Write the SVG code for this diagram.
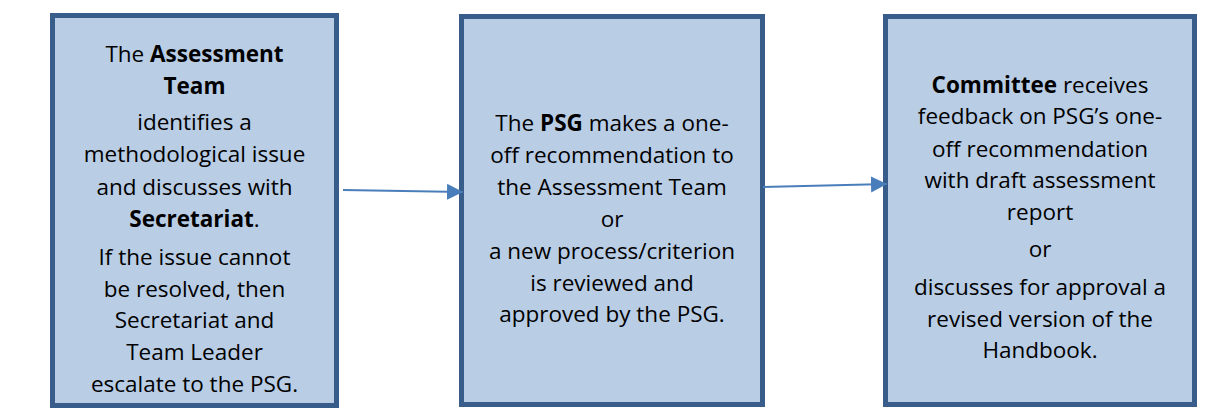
<svg xmlns="http://www.w3.org/2000/svg" width="1230" height="419" viewBox="0 0 1230 419">
<style>
.box{fill:#b9cde5;stroke:#385d8a;stroke-width:5}
.t{font-family:"Open Sans","Noto Sans","Liberation Sans",sans-serif;font-size:22.5px;fill:#000;text-anchor:middle}
.b{font-weight:bold}
.conn{stroke:#4a7ebb;stroke-width:2;fill:none}
</style>
<defs>
<marker id="ah" markerUnits="userSpaceOnUse" markerWidth="18" markerHeight="18" refX="16" refY="8" orient="auto">
<path d="M0,0 L16,8 L0,16 Z" fill="#4a7ebb"/>
</marker>
</defs>
<rect width="1230" height="419" fill="#fff"/>
<g id="node1">
<rect class="box" x="52.5" y="15.5" width="284" height="390"/>
<text class="t" x="194.5" y="62">The <tspan class="b">Assessment</tspan></text>
<text class="t b" x="194.5" y="94">Team</text>
<text class="t" x="194.5" y="130">identifies a</text>
<text class="t" x="194.5" y="162">methodological issue</text>
<text class="t" x="194.5" y="195">and discusses with</text>
<text class="t" x="194.5" y="227"><tspan class="b">Secretariat</tspan>.</text>
<text class="t" x="194.5" y="265">If the issue cannot</text>
<text class="t" x="194.5" y="297">be resolved, then</text>
<text class="t" x="194.5" y="328">Secretariat and</text>
<text class="t" x="194.5" y="360">Team Leader</text>
<text class="t" x="194.5" y="392">escalate to the PSG.</text>
</g>
<g id="node2">
<rect class="box" x="461.5" y="16.5" width="301" height="388"/>
<text class="t" x="612" y="131">The <tspan class="b">PSG</tspan> makes a one-</text>
<text class="t" x="612" y="163">off recommendation to</text>
<text class="t" x="612" y="195">the Assessment Team</text>
<text class="t" x="612" y="227">or</text>
<text class="t" x="612" y="259">a new process/criterion</text>
<text class="t" x="612" y="291">is reviewed and</text>
<text class="t" x="612" y="322">approved by the PSG.</text>
</g>
<g id="node3">
<rect class="box" x="885.5" y="16.5" width="309" height="388"/>
<text class="t" x="1040" y="93"><tspan class="b">Committee</tspan> receives</text>
<text class="t" x="1040" y="124">feedback on PSG’s one-</text>
<text class="t" x="1040" y="157">off recommendation</text>
<text class="t" x="1040" y="188">with draft assessment</text>
<text class="t" x="1040" y="220">report</text>
<text class="t" x="1040" y="257">or</text>
<text class="t" x="1040" y="295">discusses for approval a</text>
<text class="t" x="1040" y="327">revised version of the</text>
<text class="t" x="1040" y="358">Handbook.</text>
</g>
<g id="connectors">
<line class="conn" x1="343" y1="190" x2="463" y2="192" marker-end="url(#ah)"/>
<line class="conn" x1="763" y1="187" x2="887" y2="184" marker-end="url(#ah)"/>
</g>
</svg>
